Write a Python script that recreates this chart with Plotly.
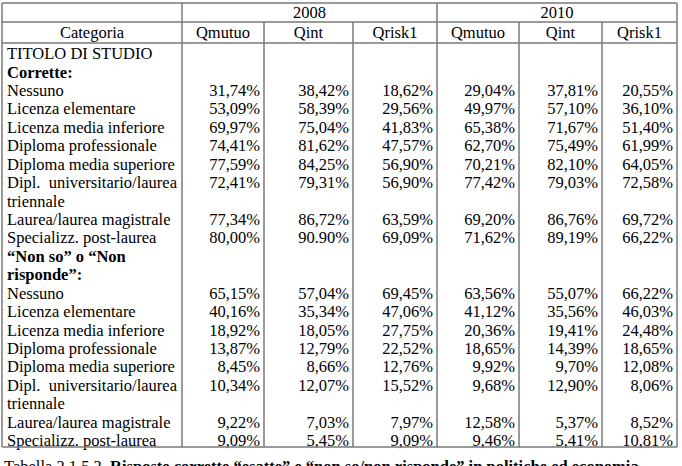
import plotly.graph_objects as go

# ---------------- data ----------------
years = ["2008", "2010"]
measures = ["Qmutuo", "Qint", "Qrisk1"]
first_col_title = "Categoria"

# row labels (one entry per printed line)
row_labels = [
    "TITOLO DI STUDIO",
    "<b>Corrette:</b>",
    "Nessuno",
    "Licenza elementare",
    "Licenza media inferiore",
    "Diploma professionale",
    "Diploma media superiore",
    "Dipl.  universitario/laurea",
    "triennale",
    "Laurea/laurea magistrale",
    "Specializz. post-laurea",
    "<b>“Non so” o “Non</b>",
    "<b>risponde”:</b>",
    "Nessuno",
    "Licenza elementare",
    "Licenza media inferiore",
    "Diploma professionale",
    "Diploma media superiore",
    "Dipl.  universitario/laurea",
    "triennale",
    "Laurea/laurea magistrale",
    "Specializz. post-laurea",
]
# line index of each data row
value_rows = [2, 3, 4, 5, 6, 7, 9, 10, 13, 14, 15, 16, 17, 18, 20, 21]

qmutuo_2008 = [31.74, 53.09, 69.97, 74.41, 77.59, 72.41, 77.34, 80.00,
               65.15, 40.16, 18.92, 13.87, 8.45, 10.34, 9.22, 9.09]
qint_2008 = [38.42, 58.39, 75.04, 81.62, 84.25, 79.31, 86.72, 90.90,
             57.04, 35.34, 18.05, 12.79, 8.66, 12.07, 7.03, 5.45]
qrisk1_2008 = [18.62, 29.56, 41.83, 47.57, 56.90, 56.90, 63.59, 69.09,
               69.45, 47.06, 27.75, 22.52, 12.76, 15.52, 7.97, 9.09]
qmutuo_2010 = [29.04, 49.97, 65.38, 62.70, 70.21, 77.42, 69.20, 71.62,
               63.56, 41.12, 20.36, 18.65, 9.92, 9.68, 12.58, 9.46]
qint_2010 = [37.81, 57.10, 71.67, 75.49, 82.10, 79.03, 86.76, 89.19,
             55.07, 35.56, 19.41, 14.39, 9.70, 12.90, 5.37, 5.41]
qrisk1_2010 = [20.55, 36.10, 51.40, 61.99, 64.05, 72.58, 69.72, 66.22,
               66.22, 46.03, 24.48, 18.65, 12.08, 8.06, 8.52, 10.81]

series = [qmutuo_2008, qint_2008, qrisk1_2008, qmutuo_2010, qint_2010, qrisk1_2010]
# the source prints one value with a decimal point instead of a comma
dot_decimal = {(1, 7)}

caption = ("Tabella 2.1.5.3. <b>Risposte corrette “esatte” e “non so/non risponde” "
           "in politiche ed economia</b>")

# ---------------- layout constants ----------------
W, H = 682, 466
col_edges = [2, 182, 264, 353, 437, 519, 602, 677]
top_y, year_line_y, head_line_y, bottom_y = 3, 22, 43, 447
first_row_y, row_pitch = 55, 18.43
year_text_y, head_text_y = 14, 34
FONT = "'Liberation Serif', Tinos, 'Times New Roman', 'DejaVu Serif', serif"
FS = 16.5
LINE = dict(color="#787878", width=1.5)


def fmt(v, si, ri):
    s = f"{v:.2f}"
    if (si, ri) not in dot_decimal:
        s = s.replace(".", ",")
    return s + "%"


fig = go.Figure()

# category column
row_y = [first_row_y + i * row_pitch for i in range(len(row_labels))]
fig.add_trace(go.Scatter(
    x=[col_edges[0] + 5] * len(row_labels), y=row_y, text=row_labels,
    mode="text", textposition="middle right",
    textfont=dict(family=FONT, size=FS, color="black"), hoverinfo="skip"))

# value columns
for si, vals in enumerate(series):
    xr = col_edges[si + 2] - 4
    fig.add_trace(go.Scatter(
        x=[xr] * len(vals), y=[row_y[r] for r in value_rows],
        text=[fmt(v, si, ri) for ri, v in enumerate(vals)],
        mode="text", textposition="middle left",
        textfont=dict(family=FONT, size=FS, color="black"), hoverinfo="skip"))

# header texts
hx, hy, ht = [], [], []
hx.append((col_edges[0] + col_edges[1]) / 2); hy.append(head_text_y); ht.append(first_col_title)
for yi, yr in enumerate(years):
    a, b = col_edges[1 + 3 * yi], col_edges[4 + 3 * yi]
    hx.append((a + b) / 2); hy.append(year_text_y); ht.append(yr)
    for mi, m in enumerate(measures):
        c0, c1 = col_edges[1 + 3 * yi + mi], col_edges[2 + 3 * yi + mi]
        hx.append((c0 + c1) / 2); hy.append(head_text_y); ht.append(m)
fig.add_trace(go.Scatter(
    x=hx, y=hy, text=ht, mode="text", textposition="middle center",
    textfont=dict(family=FONT, size=FS, color="black"), hoverinfo="skip"))

# grid lines
shapes = []
for yy in (top_y, year_line_y, head_line_y, bottom_y):
    shapes.append(dict(type="line", xref="x", yref="y", x0=col_edges[0], x1=col_edges[-1],
                       y0=yy, y1=yy, line=LINE))
for i, xx in enumerate(col_edges):
    full = i in (0, 1, 4, 7)
    shapes.append(dict(type="line", xref="x", yref="y", x0=xx, x1=xx,
                       y0=top_y if full else year_line_y, y1=bottom_y, line=LINE))

fig.update_layout(
    width=W, height=H, margin=dict(l=0, r=0, t=0, b=0),
    paper_bgcolor="white", plot_bgcolor="white", showlegend=False,
    font=dict(family=FONT, size=FS, color="black"),
    xaxis=dict(range=[0, W], visible=False, fixedrange=True),
    yaxis=dict(range=[H, 0], visible=False, fixedrange=True),
    shapes=shapes,
    annotations=[dict(x=col_edges[0], y=466, xref="x", yref="y", text=caption,
                      showarrow=False, xanchor="left", yanchor="middle",
                      font=dict(family=FONT, size=FS, color="black"))],
)

fig.write_html("out.html", config={"displayModeBar": False},
               post_script="document.body.style.margin='0';document.body.style.overflow='hidden';")
